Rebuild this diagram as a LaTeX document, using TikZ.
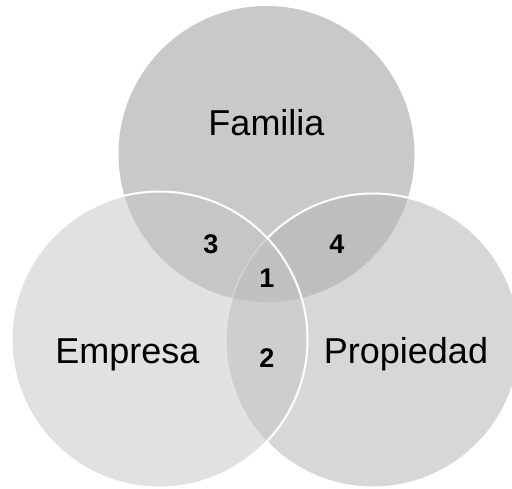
\documentclass[tikz,border=0pt]{standalone}
\usepackage{fontspec}
\setmainfont{Liberation Sans}
\definecolor{ctop}{RGB}{201,201,201}
\definecolor{cleft}{RGB}{225,225,225}
\definecolor{cright}{RGB}{215,215,215}
\definecolor{cthree}{RGB}{198,198,198}
\definecolor{cfour}{RGB}{190,190,190}
\definecolor{cone}{RGB}{193,193,193}
\definecolor{ctwo}{RGB}{206,206,206}
\tikzset{
  setlabel/.style={anchor=base, inner sep=0pt, font=\fontsize{36}{40}\selectfont},
  numlabel/.style={anchor=base, inner sep=0pt, font=\fontsize{27}{30}\selectfont\bfseries},
  ring/.style={draw=white, line width=2pt},
  faintring/.style={draw=white, draw opacity=0.3, line width=1.5pt}
}
\begin{document}
\begin{tikzpicture}[x=1pt, y=-1pt]
\useasboundingbox (0,0) rectangle (512,489);
\coordinate (T) at (266.5,154);
\coordinate (L) at (159.5,339.5);
\coordinate (R) at (373,340.5);
\def\rT{148}
\def\rL{148}
\def\rR{147}
% base fills
\fill[ctop] (T) circle (\rT);
\fill[cleft] (L) circle (\rL);
\fill[cright] (R) circle (\rR);
% pairwise overlaps
\begin{scope}
  \clip (T) circle (\rT);
  \fill[cthree] (L) circle (\rL);
  \fill[cfour] (R) circle (\rR);
\end{scope}
\begin{scope}
  \clip (L) circle (\rL);
  \fill[ctwo] (R) circle (\rR);
\end{scope}
\begin{scope}
  \clip (T) circle (\rT);
  \clip (L) circle (\rL);
  \fill[cone] (R) circle (\rR);
\end{scope}
% outlines
\begin{scope}[even odd rule]
  \clip (-10,-10) rectangle (530,500) (L) circle (\rL);
  \draw[ring] (R) circle (\rR);
\end{scope}
\begin{scope}
  \clip (L) circle (\rL);
  \draw[faintring] (R) circle (\rR);
\end{scope}
\draw[ring] (L) circle (\rL);
% labels
\node[setlabel] (familia) at (266.5,136) {Familia};
\node[setlabel] (empresa) at (127.5,363) {Empresa};
\node[setlabel] (propiedad) at (406,363) {Propiedad};
\node[numlabel] (n3) at (211,254) {3};
\node[numlabel] (n4) at (337,254) {4};
\node[numlabel] (n1) at (267,288) {1};
\node[numlabel] (n2) at (267,368) {2};
\end{tikzpicture}
\end{document}
